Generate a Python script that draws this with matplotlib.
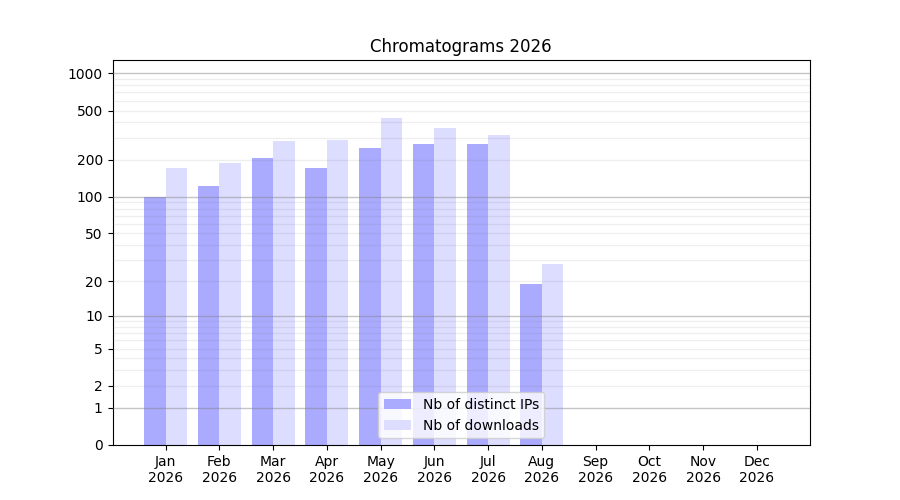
import numpy as np
import matplotlib
matplotlib.use('Agg')
import matplotlib.pyplot as plt

months = ['Jan', 'Feb', 'Mar', 'Apr', 'May', 'Jun',
          'Jul', 'Aug', 'Sep', 'Oct', 'Nov', 'Dec']
year = '2026'
ips = [99, 122, 206, 171, 249, 266, 266, 19, 0, 0, 0, 0]
downloads = [171, 188, 283, 289, 435, 361, 317, 28, 0, 0, 0, 0]
ytick_vals = [0, 1, 2, 5, 10, 20, 50, 100, 200, 500, 1000]
major_grid = [1, 10, 100, 1000]
minor_grid = [m * d for d in (1, 10, 100) for m in range(2, 10)]


def fwd(v):
    return np.log10(1 + np.maximum(v, 0))


def inv(v):
    return 10 ** v - 1


def main():
    fig, ax = plt.subplots(figsize=(9, 5), dpi=100)
    x = np.arange(len(months))
    w = 0.4
    ax.bar(x - w / 2, ips, w, color='#aaaaff', label='Nb of distinct IPs', zorder=2)
    ax.bar(x + w / 2, downloads, w, color='#ddddff', label='Nb of downloads', zorder=2)

    ax.set_yscale('function', functions=(fwd, inv))
    ax.set_ylim(0, 1280)
    ax.set_yticks(ytick_vals)
    ax.set_yticklabels([str(v) for v in ytick_vals])
    ax.yaxis.set_minor_locator(matplotlib.ticker.NullLocator())

    # grid lines over the bars, like the original
    for g in major_grid:
        ax.axhline(g, color='gray', alpha=0.45, lw=1, zorder=3)
    for g in minor_grid:
        ax.axhline(g, color='gray', alpha=0.13, lw=1, zorder=3)

    ax.set_xticks(x)
    ax.set_xticklabels([m + '\n' + year for m in months])
    ax.set_title('Chromatograms ' + year)
    ax.legend(loc='lower center')

    fig.savefig('out.png')


if __name__ == '__main__':
    main()
